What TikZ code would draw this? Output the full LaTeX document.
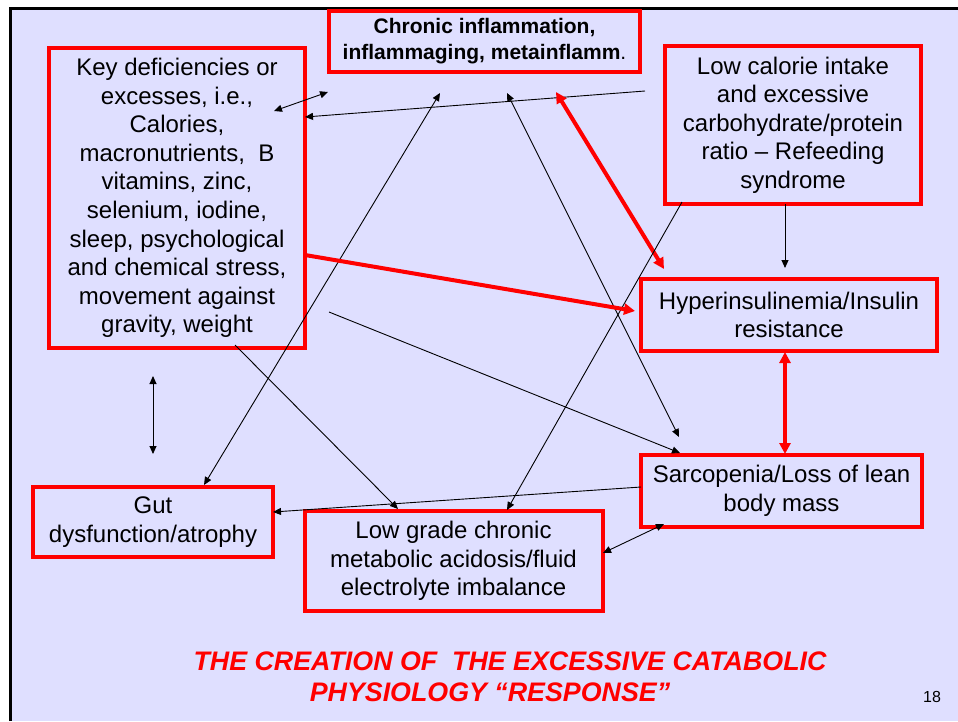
\documentclass[tikz,border=0pt]{standalone}
\usepackage{fontspec}
\setmainfont{Liberation Sans}
\usetikzlibrary{arrows.meta}
\definecolor{bg}{RGB}{223,223,255}
\definecolor{boxred}{RGB}{255,0,0}
\begin{document}
\begin{tikzpicture}[x=1pt,y=-1pt,
  box/.style={draw=boxred, line width=4pt, align=center, inner sep=0pt,
    font=\fontsize{24}{28.6}\selectfont},
  thinarr/.style={line width=0.9pt, -{Triangle[length=8pt,width=7pt]}},
  thindbl/.style={line width=0.9pt, {Triangle[length=8pt,width=7pt]}-{Triangle[length=8pt,width=7pt]}},
  redarr/.style={draw=boxred, line width=4pt, -{Triangle[length=11pt,width=11pt]}},
  reddbl/.style={draw=boxred, line width=4pt, {Triangle[length=11pt,width=11pt]}-{Triangle[length=11pt,width=11pt]}},
  titletext/.style={text=boxred, font=\fontsize{26.8}{31}\selectfont\bfseries\itshape, inner sep=0pt}
]
\useasboundingbox (0,0) rectangle (958,721);
\fill[white] (0,0) rectangle (958,721);
\fill[bg] (10,8.5) rectangle (958,721);
\draw[line width=3pt] (10,721) -- (10,8.5) -- (958,8.5);

% boxes
\node[box, minimum width=311pt, minimum height=61pt, font=\fontsize{21}{26}\selectfont]
  (chronic) at (484.5,41.5) {\textbf{Chronic inflammation,}\\\textbf{inflammaging, metainflamm}.};
\node[box, minimum width=256pt, minimum height=300pt] (key) at (177,198)
  {Key deficiencies or\\excesses, i.e.,\\Calories,\\macronutrients,~ B\\vitamins, zinc,\\selenium, iodine,\\sleep, psychological\\and chemical stress,\\movement against\\gravity, weight};
\node[box, minimum width=256pt, minimum height=158pt] (lowcal) at (793,125)
  {Low calorie intake\\and excessive\\carbohydrate/protein\\ratio -- Refeeding\\syndrome};
\node[box, minimum width=296pt, minimum height=72pt] (hyper) at (789,315)
  {Hyperinsulinemia/Insulin\\resistance};
\node[box, minimum width=281pt, minimum height=72pt] (sarc) at (781.5,491)
  {Sarcopenia/Loss of lean\\body mass};
\node[box, minimum width=240pt, minimum height=70pt] (gut) at (153,522)
  {Gut\\dysfunction/atrophy};
\node[box, minimum width=298pt, minimum height=100pt] (lowgrade) at (453.5,561)
  {Low grade chronic\\metabolic acidosis/fluid\\electrolyte imbalance};

% title and page number
\node[titletext] (title1) at (510,661) {THE CREATION OF~ THE EXCESSIVE CATABOLIC};
\node[titletext] (title2) at (490,692) {PHYSIOLOGY “RESPONSE”};
\node[font=\fontsize{16}{18}\selectfont, inner sep=0pt] (pagenum) at (932,697) {18};

% connector end points
\coordinate (a1) at (274,111); \coordinate (a2) at (328,92);
\coordinate (b1) at (645,91);  \coordinate (b2) at (305,117);
\coordinate (c1) at (440,93);  \coordinate (c2) at (204,485);
\coordinate (d1) at (507,93);  \coordinate (d2) at (679,437);
\coordinate (e1) at (556,92);  \coordinate (e2) at (664,269);
\coordinate (f1) at (682,202); \coordinate (f2) at (507,510);
\coordinate (g1) at (785,204); \coordinate (g2) at (785,268);
\coordinate (h1) at (305,255); \coordinate (h2) at (635,311);
\coordinate (i1) at (785,352); \coordinate (i2) at (785,454);
\coordinate (j1) at (329,312); \coordinate (j2) at (680,453);
\coordinate (k1) at (235,345); \coordinate (k2) at (398,509);
\coordinate (l1) at (153,376); \coordinate (l2) at (153,454);
\coordinate (m1) at (641,487); \coordinate (m2) at (273,512);
\coordinate (n1) at (603,553); \coordinate (n2) at (664,524);

% connectors
\draw[thindbl] (a1) -- (a2);
\draw[thinarr] (b1) -- (b2);
\draw[thindbl] (c1) -- (c2);
\draw[thindbl] (d1) -- (d2);
\draw[reddbl]  (e1) -- (e2);
\draw[thinarr] (f1) -- (f2);
\draw[thinarr] (g1) -- (g2);
\draw[redarr]  (h1) -- (h2);
\draw[reddbl]  (i1) -- (i2);
\draw[thinarr] (j1) -- (j2);
\draw[thinarr] (k1) -- (k2);
\draw[thindbl] (l1) -- (l2);
\draw[thinarr] (m1) -- (m2);
\draw[thindbl] (n1) -- (n2);
\end{tikzpicture}
\end{document}
